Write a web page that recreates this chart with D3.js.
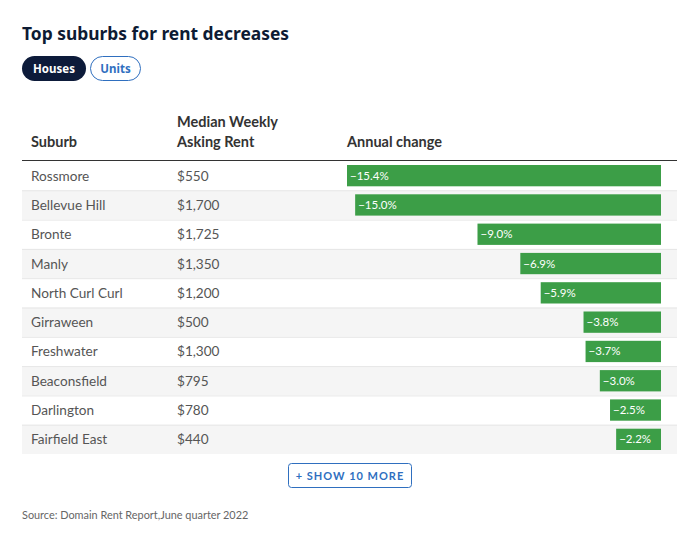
<!DOCTYPE html>
<html><head><meta charset="utf-8">
<script src="https://cdn.jsdelivr.net/npm/d3@7"></script>
<style>body{margin:0;background:#fff}</style>
</head><body>
<svg id="c" width="685" height="547"></svg>
<script>
const suburbs = ["Rossmore","Bellevue Hill","Bronte","Manly","North Curl Curl","Girraween","Freshwater","Beaconsfield","Darlington","Fairfield East"];
const rents = ["$550","$1,700","$1,725","$1,350","$1,200","$500","$1,300","$795","$780","$440"];
const changes = [-15.4,-15.0,-9.0,-6.9,-5.9,-3.8,-3.7,-3.0,-2.5,-2.2];
const headers = ["Suburb","Median Weekly|Asking Rent","Annual change"];
const tabs = ["Houses","Units"];

const svg = d3.select("#c");
const font = "Lato, 'Noto Sans', sans-serif";
const titleFont = "'Noto Sans', sans-serif";

svg.append("text").attr("x",22).attr("y",40).text("Top suburbs for rent decreases")
  .attr("font-family",titleFont).attr("font-weight",700).attr("font-size",17.4).attr("fill","#0d1b33");

// tabs
svg.append("rect").attr("x",22).attr("y",56).attr("width",64).attr("height",25).attr("rx",12.5).attr("fill","#0d1b3a");
svg.append("text").attr("x",54).attr("y",73).attr("text-anchor","middle").text(tabs[0])
  .attr("font-family",titleFont).attr("font-weight",700).attr("font-size",11.5).attr("fill","#fff");
svg.append("rect").attr("x",90.5).attr("y",56.5).attr("width",50).attr("height",24).attr("rx",12).attr("fill","#fff").attr("stroke","#2f6fbf");
svg.append("text").attr("x",115.5).attr("y",73).attr("text-anchor","middle").text(tabs[1])
  .attr("font-family",titleFont).attr("font-weight",700).attr("font-size",11.5).attr("fill","#2f6fbf");

// headers
const hx = [31,177,347];
headers.forEach((h,i)=>{
  const lines = h.split("|");
  lines.forEach((l,j)=>{
    svg.append("text").attr("x",hx[i]).attr("y",147 - (lines.length-1-j)*20).text(l)
      .attr("font-family",font).attr("font-weight",700).attr("font-size",14.5).attr("fill","#333");
  });
});
svg.append("line").attr("x1",22).attr("x2",677).attr("y1",160.5).attr("y2",160.5).attr("stroke","#333").attr("stroke-width",1);

const y = d3.scaleBand().domain(suburbs).range([161,454]).padding(0);
const x = d3.scaleLinear().domain([d3.min(changes),0]).range([347,661]);

const rows = svg.append("g").selectAll("g").data(suburbs).join("g")
  .attr("transform",d=>`translate(0,${y(d)})`);
rows.append("rect").attr("x",22).attr("width",655).attr("height",y.bandwidth())
  .attr("fill",(d,i)=>i%2?"#f5f5f5":"#fff");
rows.filter((d,i)=>i>0).append("line").attr("x1",22).attr("x2",677).attr("y1",0.5).attr("y2",0.5).attr("stroke","#e6e6e6");
rows.append("text").attr("x",31).attr("y",y.bandwidth()/2+5).text(d=>d)
  .attr("font-family",font).attr("font-size",13.6).attr("fill","#555");
rows.append("text").attr("x",177).attr("y",y.bandwidth()/2+5).text((d,i)=>rents[i])
  .attr("font-family",font).attr("font-size",13.6).attr("fill","#555");
rows.append("rect").attr("x",(d,i)=>x(changes[i])).attr("y",4).attr("height",y.bandwidth()-8)
  .attr("width",(d,i)=>x(0)-x(changes[i])).attr("fill","#3c9e47");
rows.append("text").attr("x",(d,i)=>x(changes[i])+3).attr("y",y.bandwidth()/2+4)
  .text((d,i)=>"\u2212"+Math.abs(changes[i]).toFixed(1)+"%")
  .attr("font-family",font).attr("font-size",11.5).attr("fill","#fff");

// button
svg.append("rect").attr("x",288.5).attr("y",463.5).attr("width",123).attr("height",24).attr("rx",3).attr("fill","#fff").attr("stroke","#2f6fbf");
svg.append("text").attr("x",350).attr("y",480).attr("text-anchor","middle").text("+ SHOW 10 MORE")
  .attr("font-family",font).attr("font-weight",700).attr("font-size",11).attr("letter-spacing",1).attr("fill","#2f6fbf");

svg.append("text").attr("x",22).attr("y",519).text("Source: Domain Rent Report,June quarter 2022")
  .attr("font-family",font).attr("font-size",10.9).attr("fill","#666");
</script>
</body></html>
